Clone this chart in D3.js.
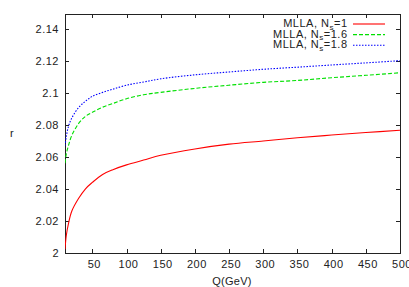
<!DOCTYPE html>
<html>
<head>
    <meta charset="utf-8">
    <title>r against Q</title>
    <script src="https://d3js.org/d3.v7.min.js"></script>
    <style>
        body { margin: 0; background: #fff; }
        svg { font-family: "Liberation Sans", Arial, sans-serif; }
        .axis path, .axis line { stroke: #222; stroke-width: 1px; shape-rendering: crispEdges; }
        .axis text { font-size: 11px; fill: #222; letter-spacing: 0.5px; }
        .label { font-size: 11px; fill: #222; letter-spacing: 0.3px; }
        .legend { font-size: 11px; fill: #222; letter-spacing: 0.5px; }
    </style>
</head>
<body>
    <svg id="chart" width="409" height="287"></svg>
    <script>
        // values
        const qValues   = [10, 12, 15, 20, 30, 40, 50, 65, 80, 100, 125, 150, 200, 250, 300, 350, 400, 450, 500];
        const rNs1      = [2.002, 2.011, 2.018, 2.026, 2.034, 2.040, 2.044, 2.049, 2.052, 2.055, 2.058, 2.061, 2.065, 2.068, 2.070, 2.072, 2.0737, 2.0753, 2.0767];
        const rNs16     = [2.056, 2.062, 2.067, 2.0735, 2.081, 2.0855, 2.088, 2.0912, 2.0935, 2.0965, 2.099, 2.1005, 2.103, 2.105, 2.1068, 2.108, 2.1097, 2.1112, 2.1128];
        const rNs18     = [2.067, 2.073, 2.079, 2.0845, 2.091, 2.095, 2.098, 2.1005, 2.1025, 2.105, 2.107, 2.109, 2.1115, 2.1133, 2.115, 2.1163, 2.1177, 2.119, 2.1204];
        const xTicks    = [50, 100, 150, 200, 250, 300, 350, 400, 450, 500];
        const yTicks    = [2, 2.02, 2.04, 2.06, 2.08, 2.1, 2.12, 2.14];
        const nsLabels  = ['1', '1.6', '1.8'];

        const series = [
            {ns: nsLabels[0], values: rNs1,  color: '#ff0000', dash: null},
            {ns: nsLabels[1], values: rNs16, color: '#00e000', dash: '4,2'},
            {ns: nsLabels[2], values: rNs18, color: '#0000ff', dash: '1.5,1.5'}
        ];

        const plotL = 65, plotR = 400, plotT = 13.5, plotB = 252.5;
        const svg = d3.select('#chart');

        const x = d3.scaleLinear().domain([10, 500]).range([plotL, plotR]);
        const y = d3.scaleLinear().domain([2, 2.15]).range([plotB, plotT]);
        const fmt = d => String(+d.toFixed(2));

        // bottom + left axes with inward ticks, top + right mirrored
        svg.append('g').attr('class', 'axis')
            .attr('transform', `translate(0,${plotB})`)
            .call(d3.axisBottom(x).tickValues(xTicks).tickSizeInner(-4).tickSizeOuter(0).tickPadding(8).tickFormat(fmt))
            .selectAll('text').attr('dx', 1.5);
        svg.append('g').attr('class', 'axis')
            .attr('transform', `translate(${plotL},0)`)
            .call(d3.axisLeft(y).tickValues(yTicks).tickSizeInner(-4).tickSizeOuter(0).tickPadding(6).tickFormat(fmt));
        svg.append('g').attr('class', 'axis')
            .attr('transform', `translate(0,${plotT})`)
            .call(d3.axisTop(x).tickValues(xTicks).tickSizeInner(-4).tickSizeOuter(0).tickFormat(''));
        svg.append('g').attr('class', 'axis')
            .attr('transform', `translate(${plotR},0)`)
            .call(d3.axisRight(y).tickValues(yTicks).tickSizeInner(-4).tickSizeOuter(0).tickFormat(''));

        svg.append('text').attr('class', 'label')
            .attr('x', 232).attr('y', 285)
            .attr('text-anchor', 'middle').text('Q(GeV)');
        svg.append('text').attr('class', 'label')
            .attr('x', 12).attr('y', 137)
            .attr('text-anchor', 'middle').text('r');

        const line = d3.line()
            .x((d, i) => x(qValues[i]))
            .y(d => y(d))
            .curve(d3.curveCatmullRom.alpha(0.5));

        svg.append('clipPath').attr('id', 'clip')
            .append('rect').attr('x', plotL).attr('y', plotT)
            .attr('width', plotR - plotL).attr('height', plotB - plotT);

        series.forEach((s, k) => {
            svg.append('path')
                .attr('clip-path', 'url(#clip)')
                .attr('d', line(s.values))
                .style('fill', 'none')
                .style('stroke', s.color)
                .style('stroke-width', 1.1)
                .style('stroke-dasharray', s.dash);

            const ly = 24 + k * 10.6;
            const t = svg.append('text').attr('class', 'legend')
                .attr('x', 347.5).attr('y', ly + 3)
                .attr('text-anchor', 'end');
            t.append('tspan').text('MLLA, N');
            t.append('tspan').attr('dy', 2.5).style('font-size', '8px').text('s');
            t.append('tspan').attr('dy', -2.5).text('=' + s.ns);

            svg.append('line')
                .attr('x1', 353).attr('x2', 385)
                .attr('y1', ly).attr('y2', ly)
                .style('stroke', s.color)
                .style('stroke-width', 1.1)
                .style('stroke-dasharray', s.dash);
        });
    </script>
</body>
</html>
